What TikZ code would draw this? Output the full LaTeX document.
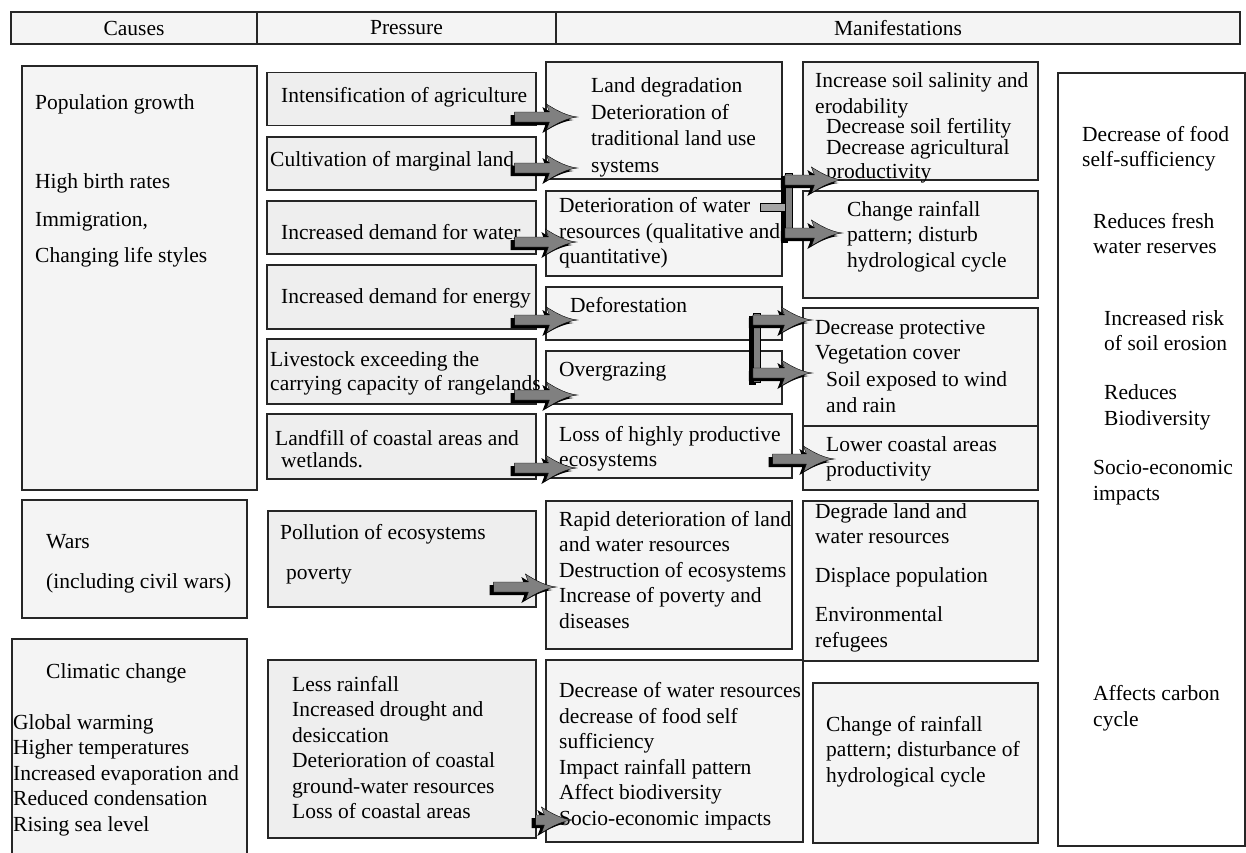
\documentclass[tikz,border=0pt]{standalone}
\usepackage{fontspec}
\setmainfont{Liberation Serif}
\usetikzlibrary{calc,fit}

\definecolor{cellfill}{HTML}{F4F4F4}
\definecolor{pressfill}{HTML}{EEEEEE}
\definecolor{arrowfill}{HTML}{808080}
\newcommand{\tfont}{\fontsize{21.5}{25.5}\selectfont}

\tikzset{
  box/.style={draw=black!85, line width=1.2pt, fill=cellfill, inner sep=0pt},
  pbox/.style={box, fill=pressfill},
  txt/.style={font=\tfont, align=left, inner sep=0pt, anchor=north west},
  head/.style={font=\tfont, inner sep=0pt},
  barshape/.style={inner sep=0pt},
}

% grey block arrow with a black drop shadow
% #1 tail node, #2 tail shift, #3 tip node, #4 tip shift, #5 row
\newcommand{\fatarrow}[5]{%
  \fill[black] let \p1=($(#1 |- 0,#5)+(#2-4,3)$), \p2=($(#3 |- 0,#5)+(#4-4,3)$) in
    (\x1,\y1+5pt) -- (\x2-28pt,\y1+5pt) -- (\x2-31pt,\y1+13pt)
    .. controls (\x2-20pt,\y1+6pt) and (\x2-10pt,\y1+1pt) .. (\x2,\y1)
    .. controls (\x2-10pt,\y1-1pt) and (\x2-20pt,\y1-6pt) .. (\x2-31pt,\y1-13pt)
    -- (\x2-28pt,\y1-5pt) -- (\x1,\y1-5pt) -- cycle;
  \filldraw[fill=arrowfill, line width=0.4pt] let \p1=($(#1 |- 0,#5)+(#2,0)$), \p2=($(#3 |- 0,#5)+(#4,0)$) in
    (\x1,\y1+5pt) -- (\x2-28pt,\y1+5pt) -- (\x2-31pt,\y1+13pt)
    .. controls (\x2-20pt,\y1+6pt) and (\x2-10pt,\y1+1pt) .. (\x2,\y1)
    .. controls (\x2-10pt,\y1-1pt) and (\x2-20pt,\y1-6pt) .. (\x2-31pt,\y1-13pt)
    -- (\x2-28pt,\y1-5pt) -- (\x1,\y1-5pt) -- cycle;}

\begin{document}
\begin{tikzpicture}[x=1pt,y=-1pt]
  \useasboundingbox (0,0) rectangle (1246,852);
  \clip (0,0) rectangle (1246,852);

  % header row
  \node[box, fit={(11,12) (257,44)}] (hcauses) {};
  \node[box, fit={(257,12) (556,44)}] (hpress) {};
  \node[box, fit={(556,12) (1240,44)}] (hmanif) {};
  \node[head] (t-hcauses) at (hcauses.center) {Causes};
  \node[head] (t-hpress) at (hpress.center) {Pressure};
  \node[head] (t-hmanif) at (hmanif.center) {Manifestations};

  % causes
  \node[box, fit={(22,66) (257,490)}] (popul) {};
  \node[box, fit={(22,500) (247,618)}] (wars) {};
  \node[box, fit={(12,639) (247,880)}] (climate) {};

  % pressure
  \node[pbox, fit={(267,72.7) (536,125.7)}] (intens) {};
  \node[pbox, fit={(267,137) (536,190)}] (cultiv) {};
  \node[pbox, fit={(267,201) (536,254)}] (water) {};
  \node[pbox, fit={(267,265) (536,329)}] (energy) {};
  \node[pbox, fit={(267,339) (536,404)}] (livest) {};
  \node[pbox, fit={(267,414) (536,479)}] (landfill) {};
  \node[pbox, fit={(268,511) (536,607)}] (pollut) {};
  \node[pbox, fit={(268,660) (536,838)}] (rain) {};

  % manifestations, first column
  \node[box, fit={(546,62) (782,179)}] (landdeg) {};
  \node[box, fit={(546,191) (782,276)}] (waterdet) {};
  \node[box, fit={(546,287) (782,340)}] (defor) {};
  \node[box, fit={(546,351) (782,404)}] (overgr) {};
  \node[box, fit={(546,414) (792,478)}] (loss) {};
  \node[box, fit={(546,501) (792,649)}] (rapid) {};
  \node[box, fit={(546,660) (803,842)}] (decwater) {};

  % manifestations, second column
  \node[box, fit={(803,62) (1038,180)}] (salin) {};
  \node[box, fit={(803,191) (1038,298)}] (chrain) {};
  \node[box, fit={(803,308) (1038,426)}] (protect) {};
  \node[box, fit={(803,426) (1038,490)}] (lowcoast) {};
  \node[box, fit={(803,501) (1038,661)}] (degrade) {};
  \node[box, fit={(813,683) (1038,843)}] (chof) {};

  % manifestations, third column
  \node[box, fill=white, fit={(1058,73) (1245,846)}] (impacts) {};

  % texts of the causes
  \node[txt] (t-popul) at (35,91) {\strut Population growth\\[53.5pt]High birth rates\\[12.5pt]Immigration,\\[10.5pt]Changing life styles};
  \node[txt] (t-wars) at (46,530) {\strut Wars\\[14.5pt](including civil wars)};
  \node[txt] (t-climate) at (46,660) {\strut Climatic change};
  \node[txt] (t-warming) at (13,711) {\strut Global warming\\Higher temperatures\\Increased evaporation and\\Reduced condensation\\Rising sea level};

  % texts of the pressures
  \node[txt] (t-intens) at (281,84.7) {\strut Intensification of agriculture};
  \node[txt] (t-cultiv) at (270,148) {\strut Cultivation of marginal land};
  \node[txt] (t-water) at (281,221) {\strut Increased demand for water};
  \node[txt] (t-energy) at (281,285) {\strut Increased demand for energy};
  \node[txt] (t-livest) at (270,348) {\strut Livestock exceeding the\\[-1.5pt]carrying capacity of rangelands};
  \node[txt] (t-landfill) at (275,427) {\strut Landfill of coastal areas and};
  \node[txt] (t-wetlands) at (281,449) {\strut wetlands.};
  \node[txt] (t-pollut) at (280,521) {\strut Pollution of ecosystems};
  \node[txt] (t-poverty) at (286,561) {\strut poverty};
  \node[txt] (t-rain) at (292,673) {\strut Less rainfall\\Increased drought and\\desiccation\\Deterioration of coastal\\ground-water resources\\Loss of coastal areas};

  % texts of the first column
  \node[txt] (t-landdeg) at (591,74.7) {\strut Land degradation\\[1pt]Deterioration of\\[1pt]traditional land use\\[1pt]systems};
  \node[txt] (t-waterdet) at (559,194.7) {\strut Deterioration of water\\resources (qualitative and\\quantitative)};
  \node[txt] (t-defor) at (570,294.7) {\strut Deforestation};
  \node[txt] (t-overgr) at (559,358) {\strut Overgrazing};
  \node[txt] (t-loss) at (559,423) {\strut Loss of highly productive\\ecosystems};
  \node[txt] (t-rapid) at (559,508) {\strut Rapid deterioration of land\\and water resources\\Destruction of ecosystems\\Increase of poverty and\\diseases};
  \node[txt] (t-decwater) at (559,679.7) {\strut Decrease of water resources\\decrease of food self\\sufficiency\\Impact rainfall pattern\\Affect biodiversity\\Socio-economic impacts};

  % texts of the second column
  \node[txt] (t-salin) at (815,69.7) {\strut Increase soil salinity and\\erodability};
  \node[txt] (t-fertil) at (826,115) {\strut Decrease soil fertility};
  \node[txt] (t-agri) at (826,136) {\strut Decrease agricultural\\[-1pt]productivity};
  \node[txt] (t-chrain) at (847,198) {\strut Change rainfall\\pattern; disturb\\hydrological cycle};
  \node[txt] (t-protect) at (815,316) {\strut Decrease protective\\Vegetation cover};
  \node[txt] (t-soil) at (826,368.7) {\strut Soil exposed to wind\\and rain};
  \node[txt] (t-lowcoast) at (826,433) {\strut Lower coastal areas\\productivity};
  \node[txt] (t-degrade) at (815,500) {\strut Degrade land and\\water resources\\[13.5pt]Displace population\\[13.5pt]Environmental\\refugees};
  \node[txt] (t-chof) at (826,713) {\strut Change of rainfall\\pattern; disturbance of\\hydrological cycle};

  % texts of the third column
  \node[txt] (t-food) at (1082,123) {\strut Decrease of food\\self-sufficiency};
  \node[txt] (t-fresh) at (1093,210.4) {\strut Reduces fresh\\water reserves};
  \node[txt] (t-erosion) at (1104,307) {\strut Increased risk\\of soil erosion};
  \node[txt] (t-biodiv) at (1104,381.5) {\strut Reduces\\Biodiversity};
  \node[txt] (t-socio) at (1093,456.6) {\strut Socio-economic\\impacts};
  \node[txt] (t-carbon) at (1093,682.5) {\strut Affects carbon\\cycle};

  % split bars
  \node[barshape, fit={(785,173) (792,240)}] (brA) {};
  \node[barshape, fit={(753,313) (760,382)}] (brB) {};
  \fill[black] ($(brA.north west)+(-4,3)$) rectangle ($(brA.south east)+(-4,3)$);
  \filldraw[fill=arrowfill, line width=0.4pt] (brA.north west) rectangle (brA.south east);
  \fill[black] ($(brB.north west)+(-4,3)$) rectangle ($(brB.south east)+(-4,3)$);
  \filldraw[fill=arrowfill, line width=0.4pt] (brB.north west) rectangle (brB.south east);
  \filldraw[fill=arrowfill!70, line width=0.6pt] ($(waterdet.east |- 0,203)+(-22,0)$) rectangle (brA.west |- 0,211);

  % arrows
  \fatarrow{intens.east}{-22}{landdeg.west}{32}{117}
  \fatarrow{cultiv.east}{-22}{landdeg.west}{32}{168}
  \fatarrow{water.east}{-22}{waterdet.west}{31}{242}
  \fatarrow{energy.east}{-22}{defor.west}{32}{320}
  \fatarrow{livest.east}{-22}{overgr.west}{32}{395}
  \fatarrow{landfill.east}{-22}{loss.west}{31}{468}
  \fatarrow{pollut.east}{-43}{rapid.west}{11}{587}
  \fatarrow{rain.east}{-1}{decwater.west}{27}{820}
  \fatarrow{loss.east}{-20}{lowcoast.west}{32}{459}
  \fatarrow{brA.west}{0}{salin.west}{40}{180}
  \fatarrow{brA.west}{0}{chrain.west}{40}{233}
  \fatarrow{brB.west}{0}{protect.west}{10}{320}
  \fatarrow{brB.west}{0}{protect.west}{10}{373}
\end{tikzpicture}
\end{document}
